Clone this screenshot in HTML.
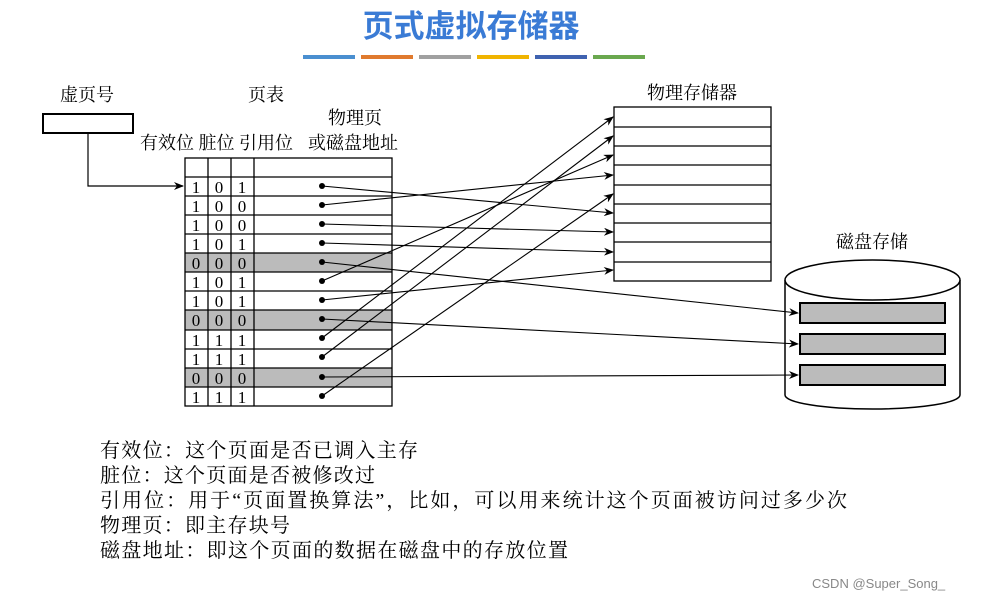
<!DOCTYPE html>
<html><head><meta charset="utf-8"><style>
body{margin:0;background:#fff;}
svg text{font-family:"Liberation Serif","Noto Serif CJK SC",serif;}
</style></head><body>
<svg width="989" height="600" xmlns="http://www.w3.org/2000/svg">
<defs><marker id="a" markerWidth="10" markerHeight="8" refX="9" refY="4" orient="auto" markerUnits="userSpaceOnUse"><path d="M0,0 L10,4 L0,8 L3,4z" fill="#000"/></marker></defs>
<text x="471" y="37" font-size="31" font-weight="bold" fill="#3a7bd5" text-anchor="middle" style="font-family:'Liberation Sans','Noto Sans CJK SC',sans-serif">页式虚拟存储器</text>
<g stroke-width="4">
<line x1="303" y1="57" x2="355" y2="57" stroke="#4a8fd0"/><line x1="361" y1="57" x2="413" y2="57" stroke="#e07a2e"/>
<line x1="419" y1="57" x2="471" y2="57" stroke="#a0a0a0"/><line x1="477" y1="57" x2="529" y2="57" stroke="#f0b400"/>
<line x1="535" y1="57" x2="587" y2="57" stroke="#3f62b0"/><line x1="593" y1="57" x2="645" y2="57" stroke="#6aa84f"/>
</g>
<g font-size="18" fill="#000">
<text x="60" y="101">虚页号</text><text x="248" y="101">页表</text>
<text x="328" y="124">物理页</text><text x="308" y="149">或磁盘地址</text>
<text x="140" y="149">有效位 脏位 引用位</text>
<text x="647" y="99">物理存储器</text><text x="836" y="248">磁盘存储</text>
</g>
<rect x="43" y="114" width="90" height="19" fill="none" stroke="#000" stroke-width="2"/>
<polyline points="88,133 88,186 183,186" fill="none" stroke="#000" stroke-width="1.2" marker-end="url(#a)"/>
<g fill="#bbb"><rect x="185" y="253" width="207" height="19"/><rect x="185" y="310" width="207" height="20"/><rect x="185" y="368" width="207" height="19"/></g>
<g stroke="#000" stroke-width="1.3" fill="none">
<rect x="185" y="158" width="207" height="248"/>
<line x1="208" y1="158" x2="208" y2="406"/><line x1="231" y1="158" x2="231" y2="406"/><line x1="254" y1="158" x2="254" y2="406"/>
<path d="M185 177H392M185 196H392M185 215H392M185 234H392M185 253H392M185 272H392M185 291H392M185 310H392M185 330H392M185 349H392M185 368H392M185 387H392"/>
</g>
<g font-size="17" text-anchor="middle">
<text x="196" y="193">1</text><text x="219" y="193">0</text><text x="242" y="193">1</text>
<text x="196" y="212">1</text><text x="219" y="212">0</text><text x="242" y="212">0</text>
<text x="196" y="231">1</text><text x="219" y="231">0</text><text x="242" y="231">0</text>
<text x="196" y="250">1</text><text x="219" y="250">0</text><text x="242" y="250">1</text>
<text x="196" y="269">0</text><text x="219" y="269">0</text><text x="242" y="269">0</text>
<text x="196" y="288">1</text><text x="219" y="288">0</text><text x="242" y="288">1</text>
<text x="196" y="307">1</text><text x="219" y="307">0</text><text x="242" y="307">1</text>
<text x="196" y="326">0</text><text x="219" y="326">0</text><text x="242" y="326">0</text>
<text x="196" y="346">1</text><text x="219" y="346">1</text><text x="242" y="346">1</text>
<text x="196" y="365">1</text><text x="219" y="365">1</text><text x="242" y="365">1</text>
<text x="196" y="384">0</text><text x="219" y="384">0</text><text x="242" y="384">0</text>
<text x="196" y="403">1</text><text x="219" y="403">1</text><text x="242" y="403">1</text>
</g>
<g stroke="#000" stroke-width="1.3" fill="none">
<rect x="614" y="107" width="157" height="174"/>
<path d="M614 127H771M614 146H771M614 165H771M614 185H771M614 204H771M614 223H771M614 242H771M614 262H771"/>
</g>
<g stroke="#000" stroke-width="1.5">
<path d="M785 280 V395 A87.5 14 0 0 0 960 395 V280" fill="#fff"/>
<ellipse cx="872.5" cy="280" rx="87.5" ry="20" fill="#fff"/>
<rect x="800" y="303" width="145" height="20" fill="#bbb" stroke-width="2"/>
<rect x="800" y="334" width="145" height="20" fill="#bbb" stroke-width="2"/>
<rect x="800" y="365" width="145" height="20" fill="#bbb" stroke-width="2"/>
</g>
<g stroke="#000" stroke-width="1.1" marker-end="url(#a)">
<line x1="322" y1="186" x2="613" y2="213"/>
<line x1="322" y1="205" x2="613" y2="175"/>
<line x1="322" y1="224" x2="613" y2="232"/>
<line x1="322" y1="243" x2="613" y2="252"/>
<line x1="322" y1="262" x2="798" y2="313"/>
<line x1="322" y1="281" x2="613" y2="155"/>
<line x1="322" y1="300" x2="613" y2="270"/>
<line x1="322" y1="319" x2="798" y2="344"/>
<line x1="322" y1="338" x2="613" y2="117"/>
<line x1="322" y1="357" x2="613" y2="136"/>
<line x1="322" y1="377" x2="798" y2="375"/>
<line x1="322" y1="396" x2="613" y2="194"/>
</g>
<g fill="#000">
<circle cx="322" cy="186" r="3"/><circle cx="322" cy="205" r="3"/><circle cx="322" cy="224" r="3"/><circle cx="322" cy="243" r="3"/>
<circle cx="322" cy="262" r="3"/><circle cx="322" cy="281" r="3"/><circle cx="322" cy="300" r="3"/><circle cx="322" cy="319" r="3"/>
<circle cx="322" cy="338" r="3"/><circle cx="322" cy="357" r="3"/><circle cx="322" cy="377" r="3"/><circle cx="322" cy="396" r="3"/>
</g>
<g font-size="20" style="font-family:'Noto Serif CJK SC',serif">
<text x="100" y="457" textLength="318" lengthAdjust="spacing">有效位：这个页面是否已调入主存</text>
<text x="100" y="482" textLength="275" lengthAdjust="spacing">脏位：这个页面是否被修改过</text>
<text x="100" y="507" textLength="747" lengthAdjust="spacing">引用位：用于“页面置换算法”，比如，可以用来统计这个页面被访问过多少次</text>
<text x="100" y="532" textLength="190" lengthAdjust="spacing">物理页：即主存块号</text>
<text x="100" y="557" textLength="468" lengthAdjust="spacing">磁盘地址：即这个页面的数据在磁盘中的存放位置</text>
</g>
<text x="812" y="588" font-size="13" fill="#888" style="font-family:'Liberation Sans',sans-serif">CSDN @Super_Song_</text>
</svg>
</body></html>
